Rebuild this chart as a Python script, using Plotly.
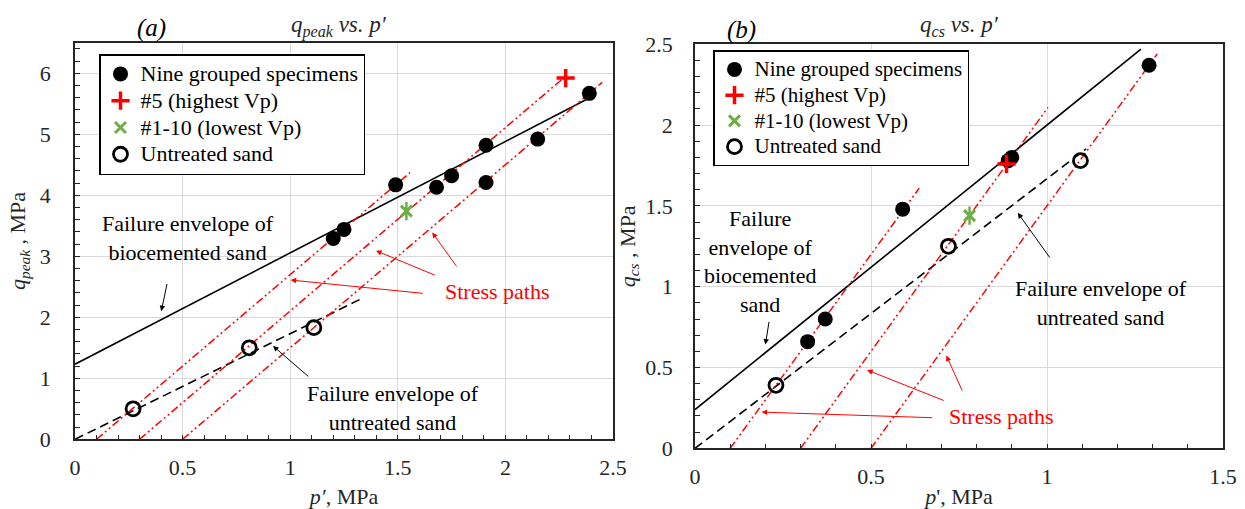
import plotly.graph_objects as go

# ---------------- data : panel (a) q_peak vs p' ----------------
a_nine_p = [1.20, 1.25, 1.49, 1.68, 1.75, 1.91, 1.91, 2.15, 2.39]
a_nine_q = [3.29, 3.44, 4.17, 4.13, 4.32, 4.82, 4.21, 4.92, 5.67]
a_hi_p = [2.28]
a_hi_q = [5.92]
a_lo_p = [1.54]
a_lo_q = [3.74]
a_unt_p = [0.27, 0.81, 1.11]
a_unt_q = [0.50, 1.50, 1.83]
a_env_bio_p = [0.0, 2.41]
a_env_bio_q = [1.23, 5.63]
a_env_unt_p = [0.0, 1.34]
a_env_unt_q = [0.0, 2.32]
a_sp_start_p = [0.10, 0.30, 0.50]
a_sp_end_p = [1.557, 2.28, 2.45]
a_sp_end_q = [4.37, 5.95, 5.85]

# ---------------- data : panel (b) q_cs vs p' ----------------
b_nine_p = [0.32, 0.37, 0.59, 0.89, 0.90, 1.29]
b_nine_q = [0.66, 0.80, 1.48, 1.78, 1.80, 2.37]
b_hi_p = [0.885]
b_hi_q = [1.76]
b_lo_p = [0.78]
b_lo_q = [1.44]
b_unt_p = [0.23, 0.72, 1.095]
b_unt_q = [0.39, 1.25, 1.78]
b_env_bio_p = [0.0, 1.267]
b_env_bio_q = [0.24, 2.47]
b_env_unt_p = [0.0, 1.111]
b_env_unt_q = [0.0, 1.853]
b_sp_start_p = [0.10, 0.30, 0.50]
b_sp_end_p = [0.637, 1.003, 1.313]
b_sp_end_q = [1.61, 2.11, 2.44]

legend_names = ["Nine grouped specimens", "#5 (highest Vp)", "#1-10 (lowest Vp)", "Untreated sand"]

FONT = "Liberation Serif"
RED = "#FF0000"
GREEN = "#70AD47"
W, H = 1245, 509

fig = go.Figure()


def add_panel(xa, ya, leg, lsize, nine_p, nine_q, hi_p, hi_q, lo_p, lo_q, unt_p, unt_q,
              bio_p, bio_q, ut_p, ut_q, sp0, sp1p, sp1q):
    def nm(s):
        return '<span style="font-size:%spx">%s</span>' % (lsize, s)
    # failure envelopes
    fig.add_trace(go.Scatter(x=bio_p, y=bio_q, mode="lines", xaxis=xa, yaxis=ya,
                             line=dict(color="black", width=1.6), showlegend=False, hoverinfo="skip"))
    fig.add_trace(go.Scatter(x=ut_p, y=ut_q, mode="lines", xaxis=xa, yaxis=ya,
                             line=dict(color="black", width=1.6, dash="9px,5px"),
                             showlegend=False, hoverinfo="skip"))
    # stress paths
    for p0, p1, q1 in zip(sp0, sp1p, sp1q):
        fig.add_trace(go.Scatter(x=[p0, p1], y=[0, q1], mode="lines", xaxis=xa, yaxis=ya,
                                 line=dict(color=RED, width=1.5, dash="8px,3px,2px,3px,2px,3px"),
                                 showlegend=False, hoverinfo="skip"))
    # markers
    fig.add_trace(go.Scatter(x=nine_p, y=nine_q, mode="markers", xaxis=xa, yaxis=ya, legend=leg,
                             name=nm(legend_names[0]),
                             marker=dict(symbol="circle", size=15, color="black")))
    fig.add_trace(go.Scatter(x=hi_p, y=hi_q, mode="markers", xaxis=xa, yaxis=ya, legend=leg,
                             name=nm(legend_names[1]),
                             marker=dict(symbol="cross-thin", size=13, color=RED,
                                         line=dict(color=RED, width=3.5))))
    fig.add_trace(go.Scatter(x=lo_p, y=lo_q, mode="markers", xaxis=xa, yaxis=ya, legend=leg,
                             name=nm(legend_names[2]),
                             marker=dict(symbol="x-thin", size=11, color=GREEN,
                                         line=dict(color=GREEN, width=3))))
    fig.add_trace(go.Scatter(x=lo_p, y=lo_q, mode="markers", xaxis=xa, yaxis=ya, showlegend=False,
                             marker=dict(symbol="line-ns", size=13, color=GREEN,
                                         line=dict(color=GREEN, width=2.5))))
    fig.add_trace(go.Scatter(x=unt_p, y=unt_q, mode="markers", xaxis=xa, yaxis=ya, legend=leg,
                             name=nm(legend_names[3]),
                             marker=dict(symbol="circle-open", size=14, color="black",
                                         line=dict(color="black", width=2.8))))


add_panel("x", "y", "legend", 22, a_nine_p, a_nine_q, a_hi_p, a_hi_q, a_lo_p, a_lo_q, a_unt_p, a_unt_q,
          a_env_bio_p, a_env_bio_q, a_env_unt_p, a_env_unt_q, a_sp_start_p, a_sp_end_p, a_sp_end_q)
add_panel("x2", "y2", "legend2", 21, b_nine_p, b_nine_q, b_hi_p, b_hi_q, b_lo_p, b_lo_q, b_unt_p, b_unt_q,
          b_env_bio_p, b_env_bio_q, b_env_unt_p, b_env_unt_q, b_sp_start_p, b_sp_end_p, b_sp_end_q)

tickfont = dict(family=FONT, size=22, color="#262626")
titlefont = dict(family=FONT, size=22, color="#262626")


def axis(domain, rng, dtick, minor_dtick, title, anchor, standoff, tls):
    return dict(domain=domain, range=rng, dtick=dtick, tick0=0, anchor=anchor,
                showgrid=True, gridcolor="#D9D9D9", gridwidth=1, zeroline=False,
                showline=True, linecolor="#262626", linewidth=1.6, mirror=True,
                ticks="inside", ticklen=5, tickwidth=1, tickcolor="#262626",
                minor=dict(dtick=minor_dtick, tick0=0, ticks="inside", ticklen=5, tickwidth=1,
                           tickcolor="#262626", showgrid=False),
                tickfont=tickfont, ticklabelstandoff=tls,
                title=dict(text=title, font=titlefont, standoff=standoff),
                automargin=False, fixedrange=True)


fig.update_layout(
    width=W, height=H, margin=dict(l=0, r=0, t=0, b=0),
    paper_bgcolor="white", plot_bgcolor="white",
    font=dict(family=FONT, size=21, color="black"),
    xaxis=axis([75 / W, 613 / W], [0, 2.5], 0.5, 0.1, "<i>p′</i>, MPa", "y", 15, 7),
    yaxis=axis([1 - 439.3 / H, 1 - 42.7 / H], [0, 6.5], 1, 0.2,
               "<i>q</i><sub><i>peak</i></sub> , MPa", "x", 8, 18),
    xaxis2=axis([695 / W, 1223 / W], [0, 1.5], 0.5, 0.1, "<i>p</i>', MPa", "y2", 15, 7),
    yaxis2=axis([1 - 448.3 / H, 1 - 44.3 / H], [0, 2.5], 0.5, 0.1,
                "<i>q</i><sub><i>cs</i></sub> , MPa", "x2", 4, 16),
    legend=dict(x=99 / W, y=1 - 54 / H, xanchor="left", yanchor="top", bgcolor="white",
                bordercolor="black", borderwidth=1.5, font=dict(family=FONT, size=18.3, color="black"),
                itemwidth=30, tracegroupgap=0),
    legend2=dict(x=713 / W, y=1 - 50 / H, xanchor="left", yanchor="top", bgcolor="white",
                 bordercolor="black", borderwidth=1.5, font=dict(family=FONT, size=17.5, color="black"),
                 itemwidth=30, tracegroupgap=0),
    showlegend=True,
)

ann = []
# panel labels and titles
ann.append(dict(text="<i>(a)</i>", x=151 / W, y=1 - 28 / H, xref="paper", yref="paper",
                xanchor="center", yanchor="middle",
                showarrow=False, font=dict(family=FONT, size=25, color="black")))
ann.append(dict(text="<i>q</i><sub><i>peak</i></sub><i> vs. p′</i>", x=339 / W, y=1 - 26 / H,
                xref="paper", yref="paper", xanchor="center", yanchor="middle",
                showarrow=False, font=dict(family=FONT, size=23, color="#262626")))
ann.append(dict(text="<i>(b)</i>", x=741 / W, y=1 - 30 / H, xref="paper", yref="paper",
                xanchor="center", yanchor="middle",
                showarrow=False, font=dict(family=FONT, size=25, color="black")))
ann.append(dict(text="<i>q</i><sub><i>cs</i></sub><i> vs. p′</i>", x=959 / W, y=1 - 26 / H,
                xref="paper", yref="paper", xanchor="center", yanchor="middle",
                showarrow=False, font=dict(family=FONT, size=23, color="#262626")))


def txt(s, x, y, xa, ya, color="black"):
    ann.append(dict(text=s, x=x, y=y, xref=xa, yref=ya, showarrow=False,
                    xanchor="center", yanchor="middle",
                    font=dict(family=FONT, size=22, color=color), align="center"))


def arr(hx, hy, tx, ty, xa, ya, color="black"):
    ann.append(dict(text="", x=hx, y=hy, ax=tx, ay=ty, xref=xa, yref=ya, axref=xa, ayref=ya,
                    showarrow=True, arrowhead=2, arrowsize=1.1, arrowwidth=1, arrowcolor=color,
                    standoff=0, startstandoff=0))


# panel (a) texts
txt("Failure envelope of<br>biocemented sand", 0.527, 3.30, "x", "y")
txt("Failure envelope of<br>untreated sand", 1.478, 0.52, "x", "y")
txt("Stress paths", 1.964, 2.42, "x", "y", RED)
arr(0.401, 2.10, 0.429, 2.57, "x", "y")
arr(0.92, 1.53, 1.091, 1.01, "x", "y")
arr(1.002, 2.61, 1.623, 2.39, "x", "y", RED)
arr(1.399, 3.09, 1.679, 2.68, "x", "y", RED)
arr(1.660, 3.39, 1.778, 2.81, "x", "y", RED)

# panel (b) texts
txt("Failure<br>envelope of<br>biocemented<br>sand", 0.185, 1.159, "x2", "y2")
txt("Failure envelope of<br>untreated sand", 1.153, 0.902, "x2", "y2")
txt("Stress paths", 0.872, 0.196, "x2", "y2", RED)
arr(0.200, 0.642, 0.211, 0.792, "x2", "y2")
arr(0.917, 1.457, 1.011, 1.171, "x2", "y2")
arr(0.189, 0.224, 0.678, 0.189, "x2", "y2", RED)
arr(0.489, 0.484, 0.711, 0.292, "x2", "y2", RED)
arr(0.714, 0.574, 0.761, 0.348, "x2", "y2", RED)

fig.update_layout(annotations=ann)

fig.write_html("out.html")
